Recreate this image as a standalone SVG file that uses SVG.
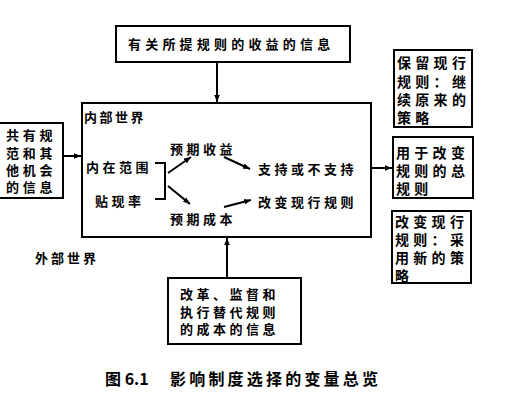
<svg xmlns="http://www.w3.org/2000/svg" width="520" height="400" viewBox="0 0 520 400">
<defs>
<marker id="ah" viewBox="0 0 10 10" refX="10" refY="5" markerWidth="7" markerHeight="7" markerUnits="userSpaceOnUse" orient="auto">
<path d="M0,1 L10,5 L0,9 z" fill="#000"/>
</marker>
</defs>
<style>
.box{fill:none;stroke:#000;stroke-width:2}
.t{font-family:"Noto Sans CJK SC","Noto Sans CJK JP",sans-serif;font-weight:bold;font-size:13px;letter-spacing:3.5px;fill:#000;dominant-baseline:central}
.tr{font-size:14px;letter-spacing:4.3px}
.cap{font-size:16px;letter-spacing:3px}
.ln{fill:none;stroke:#000;stroke-width:2}
.ar{fill:none;stroke:#000;stroke-width:2;marker-end:url(#ah)}
</style>
<rect width="520" height="400" fill="#fff"/>
<g id="top-info">
<rect class="box" x="116" y="26" width="234" height="36"/>
<text class="t" x="128" y="43" style="letter-spacing:4.2px">有关所提规则的收益的信息</text>
</g>
<g id="inner-world">
<rect class="box" x="82" y="103" width="289" height="134"/>
<text class="t" x="84" y="116" style="letter-spacing:2.5px">内部世界</text>
<text class="t" x="86" y="166">内在范围</text>
<text class="t" x="95" y="200">贴现率</text>
<text class="t" x="170" y="148">预期收益</text>
<text class="t" x="170" y="218">预期成本</text>
<text class="t" x="258" y="168">支持或不支持</text>
<text class="t" x="258" y="201">改变现行规则</text>
</g>
<g id="shared-norms">
<rect class="box" x="-2" y="123" width="65" height="75"/>
<text class="t" x="6" y="134" style="letter-spacing:3.7px">共有规</text>
<text class="t" x="6" y="152" style="letter-spacing:3.7px">范和其</text>
<text class="t" x="6" y="169" style="letter-spacing:3.7px">他机会</text>
<text class="t" x="6" y="186" style="letter-spacing:3.7px">的信息</text>
</g>
<g id="keep-rules">
<rect class="box" x="394" y="50" width="78" height="77"/>
<text class="t tr" x="397" y="62">保留现行</text>
<text class="t tr" x="397" y="81">规则：继</text>
<text class="t tr" x="397" y="99">续原来的</text>
<text class="t tr" x="397" y="117">策略</text>
</g>
<g id="general-rules">
<rect class="box" x="393" y="137" width="80" height="61"/>
<text class="t tr" x="396" y="152">用于改变</text>
<text class="t tr" x="396" y="170">规则的总</text>
<text class="t tr" x="396" y="188">规则</text>
</g>
<g id="change-rules">
<rect class="box" x="392" y="211" width="79" height="72"/>
<text class="t tr" x="395" y="221">改变现行</text>
<text class="t tr" x="395" y="239">规则：采</text>
<text class="t tr" x="395" y="257">用新的策</text>
<text class="t tr" x="395" y="275">略</text>
</g>
<g id="outer-world">
<text class="t" x="35" y="257" style="letter-spacing:3px">外部世界</text>
</g>
<g id="cost-info">
<rect class="box" x="168" y="278" width="133" height="66"/>
<text class="t" x="180" y="293">改革、监督和</text>
<text class="t" x="180" y="311">执行替代规则</text>
<text class="t" x="180" y="328">的成本的信息</text>
</g>
<g id="caption">
<text class="t cap" x="105" y="378" style="letter-spacing:0">图 6.1</text>
<text class="t cap" x="170" y="378" style="letter-spacing:3.2px">影响制度选择的变量总览</text>
</g>
<g id="connectors">
<line class="ar" x1="217" y1="62" x2="217" y2="102"/>
<line class="ar" x1="63" y1="156" x2="81" y2="156"/>
<line class="ar" x1="371" y1="168" x2="392" y2="168"/>
<line class="ar" x1="227" y1="278" x2="227" y2="238"/>
<polyline class="ln" points="155,163 165,163 165,199 155,199"/>
<line class="ar" x1="168" y1="173" x2="191" y2="157"/>
<line class="ar" x1="168" y1="186" x2="190" y2="204"/>
<line class="ar" x1="224" y1="157" x2="250" y2="169"/>
<line class="ar" x1="224" y1="207" x2="251" y2="200"/>
</g>
</svg>
